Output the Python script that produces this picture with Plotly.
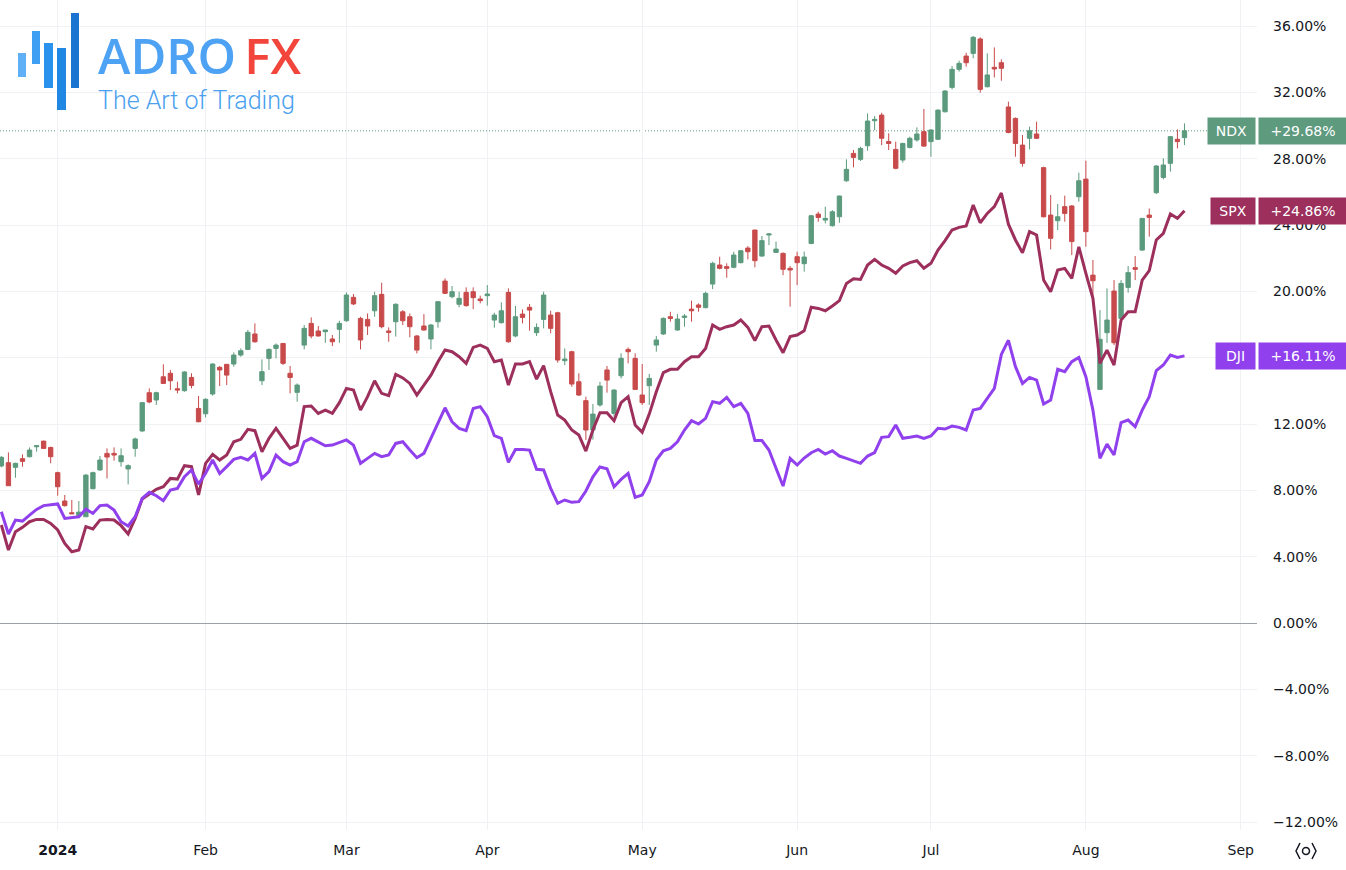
import pandas as pd
import plotly.graph_objects as go

# ---------------- data ----------------
HOLIDAYS = ["2023-12-25", "2024-01-01", "2024-01-15", "2024-02-19", "2024-03-29",
            "2024-05-27", "2024-06-19", "2024-07-04", "2024-09-02"]
FIRST_DAY = "2023-12-19"
LAST_DAY = "2024-08-21"
CAL_END = "2024-09-30"

month_labels = ["<b>2024</b>", "Feb", "Mar", "Apr", "May", "Jun", "Jul", "Aug", "Sep"]
y_ticks = [36, 32, 28, 24, 20, 16, 12, 8, 4, 0, -4, -8, -12]
# 16.00% is hidden behind the DJI price label in the reference
y_tick_text = ["36.00%", "32.00%", "28.00%", "24.00%", "20.00%", "", "12.00%",
               "8.00%", "4.00%", "0.00%", "\u22124.00%", "\u22128.00%", "\u221212.00%"]

ndx_open = [9.47, 9.67, 9.39, 9.91, 10.03, 10.63, 10.97, 10.59,
            9.07, 7.36, 6.65, 6.49, 6.41, 8.10, 9.23, 10.23, 10.23, 9.73,
            9.29, 10.53, 11.58, 13.89, 13.45, 14.85, 15.06, 14.13, 14.01, 14.81,
            12.94, 12.62, 13.81, 15.42, 15.60, 15.62, 16.16, 16.50, 17.43, 14.61,
            15.96, 16.56, 16.86, 15.06, 13.91, 16.76, 18.07, 17.61, 17.57, 17.13,
            17.71, 18.23, 19.64, 18.37, 18.31, 18.83, 19.82, 17.61, 18.17, 18.77,
            18.47, 17.31, 17.91, 17.13, 18.17, 20.62, 19.68, 19.22, 19.94, 19.98,
            19.54, 19.74, 18.27, 18.11, 19.94, 17.31, 18.63, 19.04, 17.51, 18.31,
            18.57, 18.71, 15.82, 16.36, 14.55, 13.41, 11.64, 13.15, 15.26, 12.64,
            14.91, 16.50, 15.96, 13.75, 14.31, 16.76, 17.43, 18.47, 17.67, 18.43,
            18.93, 19.18, 19.02, 20.44, 21.59, 21.49, 21.45, 21.73, 22.61, 23.70,
            22.13, 23.40, 22.35, 22.29, 21.39, 22.09, 21.67, 22.89, 24.66, 24.30,
            23.96, 24.50, 26.67, 28.32, 27.96, 28.78, 30.29, 30.63, 29.03, 28.56,
            27.92, 28.68, 29.13, 29.63, 29.03, 29.17, 30.83, 32.30, 33.39, 34.19,
            34.35, 35.22, 32.34, 33.51, 33.79, 31.12, 30.43, 28.82, 29.23, 29.49,
            27.46, 24.60, 24.26, 25.11, 25.15, 25.71, 26.77, 20.98, 14.09, 17.51,
            20.02, 18.37, 20.24, 21.43, 22.49, 24.60, 25.95, 26.87, 27.72, 29.17,
            29.27]
ndx_high = [10.07, 10.29, 9.67, 10.17, 10.59, 10.73, 10.99, 10.63,
            9.13, 7.72, 7.42, 7.36, 8.98, 9.13, 10.07, 10.53, 10.59, 10.53,
            9.57, 11.18, 13.33, 14.15, 13.95, 15.60, 15.26, 14.55, 15.18, 15.06,
            13.69, 13.55, 15.66, 15.50, 15.60, 16.32, 16.56, 17.67, 18.07, 15.90,
            16.56, 16.86, 16.86, 15.50, 14.45, 17.97, 18.43, 17.91, 17.67, 17.37,
            18.23, 19.94, 19.84, 18.47, 18.67, 19.98, 20.52, 17.83, 19.28, 18.87,
            18.67, 17.37, 18.63, 18.03, 19.38, 20.78, 20.32, 19.98, 20.24, 20.24,
            19.74, 20.38, 18.71, 19.34, 20.18, 19.12, 18.91, 19.24, 18.07, 19.98,
            18.83, 18.77, 16.56, 16.42, 15.06, 13.65, 13.21, 14.55, 15.50, 14.09,
            16.26, 16.62, 16.26, 15.62, 15.02, 17.31, 18.43, 18.77, 18.63, 18.63,
            19.44, 19.28, 19.98, 21.79, 22.09, 21.69, 22.39, 22.49, 22.73, 23.70,
            23.34, 23.50, 23.00, 22.35, 21.53, 22.39, 22.40, 24.60, 24.80, 25.11,
            24.90, 25.77, 27.96, 28.52, 28.72, 30.73, 30.57, 30.77, 29.53, 29.03,
            28.96, 29.33, 29.89, 31.00, 29.77, 30.97, 32.14, 33.59, 33.91, 34.39,
            35.40, 35.32, 34.35, 34.71, 33.99, 31.44, 30.49, 29.43, 29.93, 30.23,
            27.52, 25.81, 25.27, 25.77, 25.21, 27.16, 27.88, 21.89, 18.87, 20.18,
            20.68, 20.68, 21.53, 22.13, 24.40, 25.00, 27.62, 28.02, 29.37, 29.77,
            30.13]
ndx_low = [9.39, 8.28, 8.76, 9.43, 9.99, 10.33, 10.51, 9.63,
           7.68, 7.02, 6.59, 6.49, 6.41, 8.06, 9.19, 8.72, 9.79, 9.43,
           8.36, 10.03, 11.54, 13.25, 13.15, 14.41, 14.05, 13.85, 13.95, 14.15,
           12.10, 12.40, 13.71, 14.29, 14.35, 15.46, 16.06, 16.46, 16.90, 14.35,
           15.26, 15.96, 15.56, 13.85, 13.35, 16.50, 17.17, 17.27, 16.90, 16.70,
           16.90, 18.17, 19.18, 16.50, 17.37, 18.47, 17.77, 16.96, 17.27, 17.97,
           17.23, 16.26, 17.63, 16.50, 17.81, 19.84, 19.58, 19.04, 19.08, 18.93,
           19.28, 19.14, 17.81, 18.07, 16.90, 17.23, 18.07, 17.63, 17.31, 17.77,
           17.47, 15.70, 15.56, 14.25, 13.69, 11.04, 11.06, 13.05, 13.89, 12.44,
           14.75, 15.66, 14.05, 13.15, 13.15, 16.36, 17.37, 18.17, 17.63, 17.87,
           18.17, 18.77, 18.97, 20.14, 21.33, 20.82, 21.39, 21.69, 21.93, 21.45,
           22.09, 22.79, 22.35, 20.98, 19.08, 20.38, 21.19, 22.85, 24.20, 24.10,
           23.90, 24.14, 26.61, 27.48, 27.86, 28.48, 29.72, 28.82, 28.52, 27.36,
           27.76, 28.62, 29.03, 28.72, 28.12, 29.13, 30.79, 32.18, 33.25, 33.55,
           34.05, 31.98, 32.30, 32.90, 32.70, 29.53, 28.12, 27.52, 28.56, 29.19,
           24.46, 22.53, 23.70, 24.20, 22.19, 25.41, 22.69, 19.48, 14.09, 16.90,
           16.76, 18.31, 19.92, 20.68, 22.45, 23.30, 25.87, 26.75, 27.22, 28.62,
           28.82]
ndx_close = [9.99, 8.28, 9.63, 9.75, 10.43, 10.69, 10.53, 10.03,
             8.22, 7.08, 6.59, 6.69, 8.92, 9.07, 9.83, 10.01, 10.13, 10.09,
             9.49, 11.10, 13.29, 13.33, 13.89, 14.45, 14.61, 14.05, 15.14, 14.33,
             12.14, 13.49, 15.62, 15.26, 14.95, 16.16, 16.42, 17.53, 16.96, 15.16,
             16.50, 16.76, 15.66, 14.81, 14.35, 17.77, 17.31, 17.31, 17.67, 16.96,
             18.07, 19.78, 19.24, 17.07, 17.91, 19.74, 17.87, 17.53, 19.22, 18.23,
             17.87, 16.46, 17.67, 17.97, 19.38, 19.88, 19.98, 19.58, 19.14, 19.62,
             19.44, 19.84, 18.57, 18.83, 16.96, 18.47, 18.43, 18.87, 17.83, 19.78,
             17.77, 15.86, 15.92, 14.41, 13.75, 11.64, 12.60, 14.29, 14.65, 14.05,
             15.96, 16.36, 14.09, 13.29, 14.75, 17.07, 18.37, 18.37, 18.33, 18.51,
             18.83, 19.04, 19.88, 21.69, 21.39, 21.39, 22.19, 22.45, 22.39, 21.85,
             23.06, 23.46, 22.55, 21.33, 21.29, 21.73, 22.07, 24.56, 24.46, 24.40,
             24.80, 25.75, 27.36, 28.08, 28.62, 30.27, 30.37, 29.23, 28.92, 27.42,
             28.92, 29.23, 29.49, 28.76, 29.73, 30.93, 32.08, 33.39, 33.75, 33.79,
             35.32, 32.18, 33.05, 33.41, 33.45, 29.58, 28.92, 27.72, 29.69, 29.23,
             24.50, 23.20, 24.50, 24.70, 23.00, 26.67, 23.60, 20.64, 17.11, 18.27,
             16.90, 20.48, 21.13, 21.33, 24.40, 24.46, 27.56, 27.62, 29.33, 29.03,
             29.68]
spx = [5.91, 4.40, 5.51, 5.77, 6.11, 6.25, 6.25, 6.01,
       5.61, 4.80, 4.30, 4.40, 5.81, 5.67, 6.21, 6.25, 6.21, 5.87,
       5.37, 6.31, 7.48, 7.78, 8.06, 8.22, 8.72, 8.68, 9.49, 9.43,
       7.72, 9.63, 10.17, 9.83, 10.13, 10.93, 11.08, 11.68, 11.60, 10.33,
       11.14, 11.74, 11.14, 10.53, 10.73, 13.05, 13.09, 12.64, 12.84, 12.64,
       13.29, 14.15, 14.05, 12.84, 13.65, 14.61, 13.85, 13.71, 15.00, 14.78,
       14.45, 13.75, 14.35, 14.95, 15.76, 16.46, 16.36, 16.06, 15.66, 16.62,
       16.76, 16.56, 15.76, 15.86, 14.35, 15.62, 15.62, 15.76, 14.71, 15.52,
       13.95, 12.54, 12.24, 11.64, 11.34, 10.37, 11.64, 12.68, 12.68, 12.20,
       13.29, 13.65, 11.94, 11.50, 12.60, 13.95, 15.10, 15.30, 15.30, 15.76,
       16.06, 16.06, 16.56, 17.97, 17.71, 17.87, 17.97, 18.27, 17.83, 17.03,
       17.87, 17.91, 17.07, 16.30, 17.27, 17.37, 17.62, 19.04, 18.97, 18.83,
       19.12, 19.44, 20.48, 20.76, 20.72, 21.59, 21.93, 21.59, 21.39, 21.09,
       21.53, 21.73, 21.85, 21.39, 21.69, 22.49, 23.06, 23.70, 23.86, 23.94,
       25.21, 24.14, 24.70, 25.11, 25.93, 24.05, 23.10, 22.33, 23.60, 23.40,
       20.68, 19.98, 21.29, 21.39, 20.78, 22.69, 21.09, 19.58, 15.66, 16.46,
       15.56, 18.27, 18.77, 18.77, 20.68, 21.25, 23.10, 23.50, 24.66, 24.40,
       24.86]
dji = [6.71, 5.37, 6.21, 6.15, 6.51, 6.85, 7.08, 7.12,
       7.18, 6.31, 6.35, 6.41, 6.87, 6.61, 7.08, 7.12, 6.81, 6.11,
       5.85, 6.41, 7.52, 7.88, 7.68, 7.38, 8.02, 8.12, 8.82, 9.23,
       8.38, 9.03, 9.83, 9.02, 9.43, 9.87, 9.99, 9.83, 10.23, 8.72,
       9.13, 10.13, 9.73, 9.53, 9.73, 10.93, 11.14, 10.93, 10.69, 10.73,
       10.87, 11.04, 10.73, 9.63, 9.93, 10.23, 10.03, 10.13, 10.83, 10.93,
       10.43, 9.97, 10.23, 11.14, 12.04, 12.98, 12.14, 11.74, 11.60, 12.94,
       13.05, 12.44, 11.30, 11.14, 9.69, 10.47, 10.47, 10.43, 9.27, 9.23,
       8.12, 7.22, 7.42, 7.28, 7.32, 7.96, 8.82, 9.41, 9.30, 8.22,
       8.66, 9.02, 7.58, 7.72, 8.52, 9.83, 10.39, 10.53, 10.93, 11.64,
       12.20, 12.00, 12.34, 13.35, 13.25, 13.61, 13.05, 13.25, 12.64, 11.00,
       11.00, 10.43, 9.33, 8.26, 9.93, 9.53, 9.95, 10.27, 10.47, 10.19,
       10.39, 10.07, 9.93, 9.79, 9.63, 10.07, 10.27, 11.20, 11.24, 11.94,
       11.14, 11.20, 11.28, 11.14, 11.28, 11.74, 11.70, 11.88, 11.80, 11.64,
       12.84, 12.94, 13.55, 14.15, 16.20, 17.05, 15.46, 14.45, 14.81, 14.65,
       13.21, 13.45, 15.30, 15.16, 15.76, 16.02, 14.85, 12.84, 9.93, 10.79,
       10.13, 12.08, 12.24, 11.84, 12.84, 13.65, 15.22, 15.56, 16.16, 16.02,
       16.11]

# ---------------- styles ----------------
GREEN = "#5b9a7d"
RED = "#c84a4b"
SPX_C = "#9c2f5c"
DJI_C = "#9040ec"
NDX_LBL = "#5e9a7e"
TXT = "#131722"
GRID = "#eff1f4"
FONT = "DejaVu Sans"

W, H = 1346, 870
ML, MR, MT, MB = 0, 89, 0, 40
PW, PH = W - ML - MR, H - MT - MB


def px_x(px):
    return px / PW


def px_y(py):
    return 1 - py / PH


calendar = pd.bdate_range(FIRST_DAY, CAL_END, freq="C", holidays=HOLIDAYS)
dates = calendar[calendar <= pd.Timestamp(LAST_DAY)]
x = list(range(len(dates)))

tickvals = []
seen = set()
for i, d in enumerate(calendar):
    key = (d.year, d.month)
    if d.year == 2024 and key not in seen:
        seen.add(key)
        tickvals.append(i)
tickvals = tickvals[:len(month_labels)]

fig = go.Figure()
fig.add_trace(go.Candlestick(
    x=x, open=ndx_open, high=ndx_high, low=ndx_low, close=ndx_close,
    increasing=dict(line=dict(color=GREEN, width=1), fillcolor=GREEN),
    decreasing=dict(line=dict(color=RED, width=1), fillcolor=RED),
    whiskerwidth=0, hoverinfo="skip", name="NDX"))
fig.add_trace(go.Scatter(x=x, y=spx, mode="lines", line=dict(color=SPX_C, width=3),
                         hoverinfo="skip", name="SPX"))
fig.add_trace(go.Scatter(x=x, y=dji, mode="lines", line=dict(color=DJI_C, width=3),
                         hoverinfo="skip", name="DJI"))

shapes = []
# NDX last value dotted line
shapes.append(dict(type="line", xref="paper", yref="y", x0=0, x1=1,
                   y0=ndx_close[-1], y1=ndx_close[-1],
                   line=dict(color=GREEN, width=1, dash="1px,2px"), layer="below"))
# logo bars
bars = [(18, 26, 53, 77, "#5fb0f6"), (32, 40, 31, 64, "#3f9ff2"), (44, 53, 43, 88, "#2a92ec"),
        (57, 66, 48, 110, "#2087e2"), (71, 79, 13, 88, "#1a74d0")]
for x0, x1, y0, y1, c in bars:
    shapes.append(dict(type="rect", xref="paper", yref="paper",
                       x0=px_x(x0), x1=px_x(x1), y0=px_y(y1), y1=px_y(y0),
                       fillcolor=c, line=dict(width=0), layer="above"))
# settings icon bottom right
cx, cy = 1306, 851
hx, hy = 10, 8
path = (f"M {px_x(cx-hx+4)} {px_y(cy-hy)} L {px_x(cx-hx)} {px_y(cy)} L {px_x(cx-hx+4)} {px_y(cy+hy)} "
        f"M {px_x(cx+hx-4)} {px_y(cy-hy)} L {px_x(cx+hx)} {px_y(cy)} L {px_x(cx+hx-4)} {px_y(cy+hy)}")
shapes.append(dict(type="path", xref="paper", yref="paper", path=path,
                   line=dict(color=TXT, width=1.5)))
shapes.append(dict(type="circle", xref="paper", yref="paper",
                   x0=px_x(cx - 3.5), x1=px_x(cx + 3.5), y0=px_y(cy + 3.5), y1=px_y(cy - 3.5),
                   line=dict(color=TXT, width=1.5)))

annotations = []
# right-side value labels
labels = [("NDX", ndx_close[-1], NDX_LBL, 47), ("SPX", spx[-1], SPX_C, 44), ("DJI", dji[-1], DJI_C, 39)]
for name, val, col, wname in labels:
    annotations.append(dict(text=name, xref="paper", yref="y", x=px_x(1256), y=val,
                            xanchor="right", yanchor="middle", showarrow=False,
                            bgcolor=col, width=wname, height=26, borderpad=0,
                            font=dict(color="white", size=14, family=FONT)))
    annotations.append(dict(text=f"+{val:.2f}%", xref="paper", yref="y", x=px_x(1258), y=val,
                            xanchor="left", yanchor="middle", showarrow=False,
                            bgcolor=col, width=88, height=26, borderpad=0,
                            font=dict(color="white", size=14, family=FONT)))
# logo text (one two-line text block)
big = "font-family:Open Sans;font-size:49px;font-weight:600;"
logo_text = (f"<span style='{big}color:#4da2f4'>ADRO</span>"
             f"<span style='{big}color:#f2463c'>\u2009FX</span>"
             "<br><span style='font-size:25px'>The Art of Trading</span>")
annotations.append(dict(text=logo_text, xref="paper", yref="paper",
                        x=px_x(97), y=px_y(21), xanchor="left", yanchor="top",
                        align="left", showarrow=False, borderpad=0,
                        font=dict(family="Roboto", size=27, weight=300, color="#4a9ff0")))

fig.update_layout(
    width=W, height=H, margin=dict(l=ML, r=MR, t=MT, b=MB),
    paper_bgcolor="white", plot_bgcolor="white", showlegend=False,
    font=dict(family=FONT, size=14, color=TXT),
    hovermode=False, boxgap=0.12,
    shapes=shapes, annotations=annotations,
    xaxis=dict(range=[-0.195, 178.3], tickvals=tickvals, ticktext=month_labels,
               showgrid=True, gridcolor=GRID, gridwidth=1, zeroline=False, showline=False,
               ticks="", rangeslider=dict(visible=False), ticklabelstandoff=10,
               tickfont=dict(size=14, color=TXT), fixedrange=True),
    yaxis=dict(side="right", range=[-12.48, 37.57], tickvals=y_ticks, ticktext=y_tick_text,
               showgrid=True, gridcolor=GRID, gridwidth=1, zeroline=True,
               zerolinecolor="#9da1a8", zerolinewidth=1, showline=False, ticks="",
               ticklabelstandoff=15, tickfont=dict(size=14, color=TXT), fixedrange=True),
)

fig.write_html("out.html", config={"displayModeBar": False})
